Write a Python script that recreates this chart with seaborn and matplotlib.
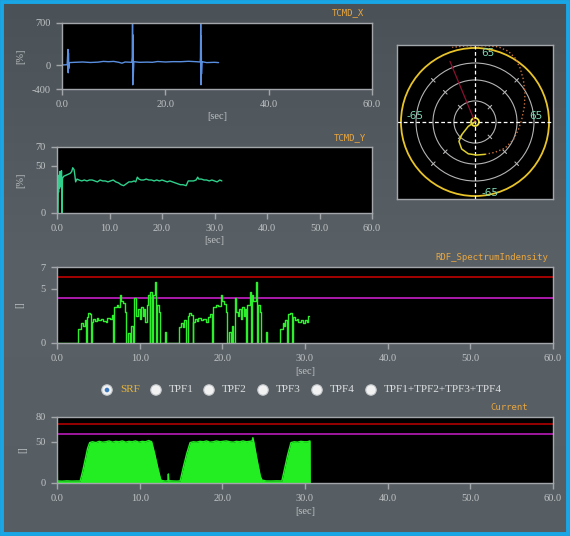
import numpy as np
import seaborn as sns
import matplotlib.pyplot as plt
from matplotlib.patches import Circle, Rectangle

W, H = 570, 536

# ---- data ----
# TCMD_X  (sec, %)
tcmd_x = [
    (0.0, 0), (1.0, 5), (1.15, 260), (1.2, -130), (1.25, 200), (1.3, -60), (1.4, 40),
    (2.5, 45), (4.0, 50), (5.5, 42), (7.0, 48), (8.0, 60), (9.0, 55), (10.0, 60),
    (11.0, 45), (11.6, 30), (12.2, 50), (13.5, 45), (13.6, 130), (13.65, 680),
    (13.7, -330), (13.75, 500), (13.8, -180), (13.9, 55), (15.0, 45), (16.5, 48),
    (17.5, 45), (18.5, 58), (20.0, 50), (21.5, 56), (23.0, 55), (24.5, 62), (26.0, 55),
    (26.75, 50), (26.8, 120), (26.85, 680), (26.9, -330), (26.95, 480), (27.0, -150),
    (27.1, 55), (28.0, 40), (29.5, 45), (30.3, 40),
]

# TCMD_Y  (sec, %)
tcmd_y = [
    (0.0, 63), (0.1, 40), (0.13, 0), (0.2, 30), (0.3, 22), (0.4, 40), (0.48, 26),
    (0.55, 44), (0.62, 28), (0.7, 42), (0.78, 30), (0.85, 45), (0.92, 33), (0.98, 0),
    (1.05, 37), (1.3, 39), (1.7, 40), (2.1, 41), (2.5, 42), (2.8, 44), (3.0, 48),
    (3.25, 46), (3.4, 40), (3.55, 33), (3.8, 36), (4.2, 35), (4.7, 34), (5.2, 35),
    (5.7, 34), (6.2, 35), (6.7, 35), (7.2, 34), (7.7, 33), (8.2, 35), (8.7, 34),
    (9.2, 34), (9.7, 33), (10.2, 34), (10.7, 35), (11.2, 33), (11.7, 32), (12.2, 30),
    (12.7, 29), (13.2, 31), (13.7, 33), (14.2, 33), (14.7, 34), (15.0, 33), (15.3, 38),
    (15.6, 36), (16.0, 35), (16.5, 35), (17.0, 36), (17.5, 35), (18.0, 35), (18.5, 34),
    (19.0, 35), (19.5, 34), (20.0, 35), (20.5, 34), (21.0, 33), (21.5, 34), (22.0, 33),
    (22.5, 32), (23.0, 31), (23.5, 30), (24.0, 30), (24.6, 29), (25.0, 34), (25.5, 34),
    (26.0, 34), (26.5, 35), (26.8, 38), (27.0, 36), (27.5, 36), (28.0, 35), (28.5, 35),
    (29.0, 34), (29.5, 35), (30.0, 34), (30.5, 33), (31.0, 35), (31.4, 34),
]

# RDF_SpectrumIndensity  (sec, value), step data
rdf = [
    (0.0, 0), (2.6, 1.3), (2.9, 1.8), (3.2, 1.6), (3.4, 2.1), (3.5, 0), (3.6, 2.4),
    (3.8, 2.8), (4.0, 2.7), (4.1, 0), (4.2, 1.9), (4.4, 2.2), (4.6, 2.0), (4.8, 2.3),
    (5.0, 2.1), (5.3, 2.2), (5.6, 2.0), (5.9, 1.9), (6.1, 2.3), (6.4, 2.2), (6.6, 2.55),
    (6.8, 0), (6.9, 3.3), (7.2, 3.5), (7.4, 3.3), (7.6, 4.4), (7.8, 3.9), (8.0, 3.7),
    (8.2, 2.9), (8.4, 0), (8.6, 0.9), (8.8, 0), (9.0, 1.6), (9.2, 0), (9.35, 4.1),
    (9.5, 2.9), (9.6, 2.5), (9.8, 3.1), (10.0, 2.2), (10.2, 3.3), (10.4, 2.5),
    (10.55, 3.1), (10.7, 1.9), (10.85, 3.5), (11.05, 4.4), (11.2, 0), (11.3, 4.7),
    (11.45, 0), (11.6, 4.4), (11.85, 5.6), (12.0, 0), (12.1, 3.5), (12.3, 2.9),
    (12.5, 0), (13.05, 1.0), (13.2, 0),
    (14.8, 1.5), (15.0, 1.8), (15.2, 1.5), (15.4, 2.1), (15.6, 0), (15.8, 2.5),
    (16.0, 2.8), (16.2, 2.6), (16.4, 0), (16.5, 1.9), (16.7, 2.2), (16.9, 2.0),
    (17.1, 2.3), (17.4, 2.1), (17.7, 2.2), (18.0, 1.9), (18.3, 2.4), (18.5, 2.7),
    (18.7, 0), (18.9, 3.3), (19.2, 3.5), (19.5, 3.4), (19.8, 4.4), (20.0, 3.9),
    (20.2, 3.6), (20.4, 2.9), (20.6, 0), (20.8, 1.0), (21.0, 0), (21.2, 1.6),
    (21.35, 0), (21.5, 4.1), (21.7, 2.9), (21.85, 2.5), (22.0, 3.1), (22.2, 2.2),
    (22.4, 3.3), (22.6, 2.5), (22.8, 3.1), (22.9, 0), (23.0, 3.5), (23.35, 4.7),
    (23.45, 0), (23.6, 4.4), (23.75, 3.9), (24.05, 5.6), (24.2, 0), (24.3, 3.5),
    (24.5, 2.9), (24.7, 0), (25.3, 1.0), (25.45, 0),
    (27.0, 1.3), (27.3, 1.8), (27.5, 1.6), (27.6, 2.1), (27.8, 0), (28.0, 2.7),
    (28.2, 2.8), (28.4, 0), (28.5, 2.4), (28.8, 2.1), (29.0, 2.2), (29.2, 1.9),
    (29.5, 2.1), (29.8, 1.8), (30.0, 2.1), (30.2, 1.9), (30.4, 2.5), (30.45, 2.5),
]
rdf_limits = [6.1, 4.15]

# Current  (sec, value)
current = [
    (0.0, 72), (0.05, 2.5), (0.6, 2.2), (1.2, 2.6), (1.8, 2.3), (2.4, 2.5), (2.8, 2.4),
    (3.1, 14), (3.4, 28), (3.7, 42), (3.95, 49), (4.3, 50), (4.7, 49), (5.1, 50.5),
    (5.5, 49.5), (5.9, 50), (6.3, 51), (6.7, 49.5), (7.1, 50.5), (7.5, 50), (7.9, 51),
    (8.3, 49.5), (8.7, 50.5), (9.1, 50), (9.5, 51), (9.9, 49.5), (10.3, 50.5),
    (10.7, 50), (11.1, 51.5), (11.45, 50), (11.8, 36), (12.2, 18), (12.55, 4),
    (12.7, 3), (13.1, 2.4), (13.42, 2.8), (13.47, 11), (13.52, 2.8), (14.0, 2.5),
    (14.5, 2.3), (14.9, 2.6), (15.3, 20), (15.7, 36), (16.1, 49), (16.5, 50),
    (16.9, 49.5), (17.3, 50.5), (17.7, 50), (18.1, 51), (18.5, 49.5), (18.9, 50),
    (19.3, 51), (19.7, 50), (20.1, 50.5), (20.5, 51), (20.9, 50), (21.3, 49.5),
    (21.7, 50.5), (22.1, 50), (22.5, 51), (22.9, 50), (23.3, 50.5), (23.6, 51),
    (23.7, 55), (23.8, 50), (24.2, 28), (24.6, 8), (24.8, 3.5), (25.3, 2.5),
    (25.9, 2.4), (26.5, 2.6), (27.2, 2.5), (27.5, 16), (27.9, 34), (28.3, 49),
    (28.7, 50), (29.1, 49.5), (29.5, 50.5), (29.9, 50), (30.3, 50), (30.6, 51),
    (30.62, 0),
]
current_limits = [72, 60]

# polar trajectory
loop_x = [0, -5.9, -11.7, -14.1, -11.7, -5.9, 1.5, 8.8]
loop_y = [0, -3.8, -11.2, -17.0, -23.7, -27.9, -29.0, -28.4]
tail_x = [8.8, 17.6, 26.4, 33.7, 38.1, 41.0, 43.4, 43.9, 42.5, 39.6, 35.2, 29.3, 20.5, 8.0, -8.0, -20.0]
tail_y = [-28.4, -26.6, -22.9, -15.5, -6.7, 2.1, 13.8, 25.5, 37.2, 47.4, 56.2, 62.1, 66.0, 67.0, 66.8, 65.5]
ray_x = [0, -22.0]
ray_y = [0, 53.3]
ring_radii = [18.5, 36.9, 51.8]

radio_labels = ["SRF", "TPF1", "TPF2", "TPF3", "TPF4", "TPF1+TPF2+TPF3+TPF4"]

# ---- styling ----
SPINE = "#a3a7ab"
TICK = "#bec2c5"
TITLE = "#e9a640"

sns.set_theme(style="ticks")
plt.rcParams["font.family"] = ["Liberation Serif", "DejaVu Serif"]

fig = plt.figure(figsize=(W / 100, H / 100), dpi=100)


def px_axes(x0, y0, x1, y1):
    return fig.add_axes([x0 / W, 1 - y1 / H, (x1 - x0) / W, (y1 - y0) / H])


# background + frame
bg = fig.add_axes([0, 0, 1, 1])
grad = np.linspace(0, 1, 256).reshape(-1, 1)
bg.imshow(grad, extent=(0, W, H, 0), aspect="auto",
          cmap=sns.blend_palette(["#4b5257", "#5a6166", "#575e63"], as_cmap=True))
bg.set_xlim(0, W)
bg.set_ylim(H, 0)
bg.axis("off")
bg.add_patch(Rectangle((2, 2), W - 4, H - 4, fill=False, ec="#19a6e6", lw=2.8))


def style_ts(ax, xticks, yticks, ylim, ylabel, ylab_x, xlab_y):
    ax.set_facecolor("black")
    for s in ax.spines.values():
        s.set_color(SPINE)
        s.set_linewidth(1)
    ax.set_xlim(0, 60)
    ax.set_ylim(*ylim)
    ax.set_xticks(xticks, [f"{t:.1f}" for t in xticks])
    ax.set_yticks(yticks, [str(v) for v in yticks])
    ax.tick_params(colors=SPINE, labelcolor=TICK, length=4, width=1,
                   labelsize=7.5, pad=4)
    ax.set_xlabel("[sec]", color=TICK, fontsize=7.5)
    ax.xaxis.set_label_coords(0.5, xlab_y)
    ax.set_ylabel(ylabel, color=TICK, fontsize=7.5)
    ax.yaxis.set_label_coords(ylab_x, 0.5)
    ax.grid(False)


ticks10 = [0, 10, 20, 30, 40, 50, 60]

# TCMD_X
ax1 = px_axes(62, 23, 372, 89)
sns.lineplot(x=[p[0] for p in tcmd_x], y=[p[1] for p in tcmd_x], ax=ax1,
             color="#5a8fe0", lw=1, sort=False, estimator=None)
style_ts(ax1, [0, 20, 40, 60], [-400, 0, 700], (-400, 700), "[%]", -0.12, -0.35)

# TCMD_Y
ax2 = px_axes(57, 147, 372, 213)
sns.lineplot(x=[p[0] for p in tcmd_y], y=[p[1] for p in tcmd_y], ax=ax2,
             color="#2fd08c", lw=1, sort=False, estimator=None)
style_ts(ax2, ticks10, [0, 50, 70], (0, 70), "[%]", -0.10, -0.35)

# RDF
ax3 = px_axes(57, 267, 553, 343)
for lim, c in zip(rdf_limits, ["#c00000", "#c81ec8"]):
    ax3.axhline(lim, color=c, lw=1.2)
sns.lineplot(x=[p[0] for p in rdf], y=[p[1] for p in rdf], ax=ax3,
             color="#2cf02c", lw=1, sort=False, estimator=None, drawstyle="steps-post")
style_ts(ax3, ticks10, [0, 5, 7], (0, 7), "[]", -0.067, -0.32)

# Current
ax4 = px_axes(57, 417, 553, 483)
for lim, c in zip(current_limits, ["#b00000", "#b81ab8"]):
    ax4.axhline(lim, color=c, lw=1.2)
ct = [p[0] for p in current]
cv = [p[1] for p in current]
ax4.fill_between(ct, cv, 0, color="#22ee22", lw=0)
sns.lineplot(x=ct, y=cv, ax=ax4, color="#22ee22", lw=1, sort=False, estimator=None)
style_ts(ax4, ticks10, [0, 50, 80], (0, 80), "[]", -0.06, -0.36)

# polar view
axp = px_axes(397, 45, 553, 199)
axp.set_facecolor("black")
for s in axp.spines.values():
    s.set_color(SPINE)
    s.set_linewidth(1)
axp.set_xlim(-68.5, 68.5)
axp.set_ylim(-67.6, 67.6)
axp.set_xticks([])
axp.set_yticks([])
axp.grid(False)
for r in ring_radii:
    axp.add_patch(Circle((0, 0), r, fill=False, ec="#b4b4b4", lw=0.8))
    for a in np.deg2rad([45, 135, 225, 315]):
        axp.plot([np.cos(a) * (r - 2.2), np.cos(a) * (r + 2.2)],
                 [np.sin(a) * (r - 2.2), np.sin(a) * (r + 2.2)], color="#b4b4b4", lw=0.8)
axp.axhline(0, color="white", lw=0.9, ls=(0, (3, 2)))
axp.axvline(0, color="white", lw=0.9, ls=(0, (3, 2)))
axp.add_patch(Circle((0, 0), 65, fill=False, ec="#e8c42a", lw=1.3))
sns.lineplot(x=ray_x, y=ray_y, ax=axp, color="#8a1030", lw=0.9, sort=False, estimator=None)
sns.lineplot(x=tail_x, y=tail_y, ax=axp, color="#c8703a", lw=1, ls=":", sort=False, estimator=None)
sns.lineplot(x=loop_x, y=loop_y, ax=axp, color="#e0d030", lw=1.1, sort=False, estimator=None)
axp.add_patch(Circle((0, 0), 3.5, fill=False, ec="#f0e040", lw=1.3))
lab = dict(color="#7fd8b4", fontsize=7.5, family=["DejaVu Sans"], va="center", ha="left")
axp.text(5.5, 60.5, "65", **lab)
axp.text(-60, 5.5, "-65", **lab)
axp.text(48, 5.5, "65", **lab)
axp.text(5.5, -62.5, "-65", **lab)

# titles
ttl = dict(color=TITLE, fontsize=6.5, family=["DejaVu Sans Mono"], ha="right", va="center")
bg.text(364, 13, "TCMD_X", **ttl)
bg.text(366, 138, "TCMD_Y", **ttl)
bg.text(548, 257, "RDF_SpectrumIndensity", **ttl)
bg.text(528, 407, "Current", **ttl)

# radio buttons
radio_cx = [107, 156, 209, 263, 317, 371]
for i, (cx, name) in enumerate(zip(radio_cx, radio_labels)):
    bg.add_patch(Circle((cx, 390), 5.2, fc="#f2f2f2", ec="#c8cccf", lw=0.8))
    if i == 0:
        bg.add_patch(Circle((cx, 390), 2.3, fc="#3b78c0", ec="none"))
    bg.text(cx + 13, 390, name, color="#e6b43a" if i == 0 else "#dcdfe2",
            fontsize=8, va="center", ha="left")

fig.savefig("out.png", dpi=100)
